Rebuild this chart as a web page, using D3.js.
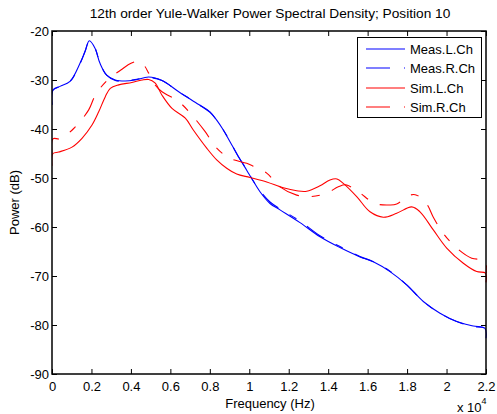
<!DOCTYPE html>
<html>
<head>
<meta charset="utf-8">
<script src="https://cdn.jsdelivr.net/npm/d3@7"></script>
<style>
  body { margin: 0; background: #fff; }
  svg { display: block; font-family: "Liberation Sans", Arial, sans-serif; }
</style>
</head>
<body>
<svg id="chart" width="497" height="414"></svg>
<script>
// Frequency in Hz, power in dB
const measL_f = [0, 51, 406, 912, 1419, 1673, 1891, 2180, 2433, 2771, 3209, 3700, 4207, 4902, 5576, 6423, 7437, 8009, 8349, 8684, 9023, 9444, 9870, 10123, 10544, 11051, 11558, 12571, 13585, 14599, 15613, 16287, 17133, 17980, 18822, 19668, 20515, 21356, 21949, 22000];
const measL_db = [-35.1, -32.0, -31.3, -30.3, -26.6, -24.2, -22.0, -23.5, -26.6, -29.0, -30.0, -30.2, -30.0, -29.4, -30.1, -32.4, -35.0, -36.5, -38.2, -40.2, -42.6, -45.6, -48.4, -50.1, -52.8, -55.2, -56.5, -59.1, -62.0, -64.2, -66.1, -67.1, -69.1, -71.8, -75.2, -77.6, -79.3, -80.2, -80.7, -82.7];
const measR_f = [0, 51, 406, 912, 1419, 1673, 1891, 2180, 2433, 2771, 3209, 3700, 4207, 4902, 5576, 6423, 7437, 8009, 8349, 8684, 9023, 9444, 9870, 10123, 10544, 11051, 11558, 12571, 13585, 14599, 15613, 16287, 17133, 17980, 18822, 19668, 20515, 21356, 21949, 22000];
const measR_db = [-35.0, -32.1, -31.3, -30.3, -26.7, -24.2, -22.1, -23.5, -26.6, -29.0, -30.1, -30.2, -29.9, -29.5, -30.1, -32.4, -35.0, -36.6, -38.2, -40.2, -42.5, -45.6, -48.3, -50.1, -52.6, -54.9, -56.3, -58.8, -61.8, -64.0, -66.0, -67.1, -69.0, -71.8, -75.2, -77.6, -79.3, -80.3, -80.7, -82.6];
const simL_f = [0, 51, 340, 1014, 1521, 2028, 2367, 2702, 2956, 3379, 4049, 4562, 4902, 5221, 5576, 6083, 6757, 7163, 7842, 8349, 8856, 9363, 10037, 10883, 11725, 12404, 12911, 13585, 14092, 14447, 14766, 15446, 16120, 16794, 17474, 18234, 18654, 19329, 20008, 20850, 21529, 21975, 22000];
const simL_db = [-47.5, -45.0, -44.7, -43.7, -41.9, -39.2, -36.5, -33.4, -31.7, -31.0, -30.5, -30.0, -29.9, -30.6, -33.1, -35.8, -37.8, -40.2, -43.9, -46.3, -48.0, -49.2, -49.9, -50.8, -52.0, -52.6, -52.7, -51.6, -50.4, -50.2, -51.1, -53.8, -56.9, -58.0, -57.2, -55.9, -56.9, -60.6, -64.3, -67.4, -69.1, -69.4, -71.3];
const simR_f = [0, 51, 406, 1100, 1860, 2195, 2788, 3548, 4005, 4395, 4664, 4902, 5221, 5576, 6423, 7163, 7756, 8349, 9023, 9870, 10204, 10883, 11558, 12404, 13078, 13924, 14513, 14900, 15527, 16373, 17133, 17474, 18148, 18487, 18994, 19329, 19836, 20515, 21276, 21949, 22000];
const simR_db = [-45.0, -42.0, -42.0, -39.9, -36.1, -33.1, -30.1, -27.8, -26.6, -26.2, -27.0, -28.6, -31.0, -32.4, -34.4, -37.5, -40.5, -43.9, -46.0, -47.0, -47.6, -49.0, -51.8, -53.5, -53.8, -53.1, -51.8, -51.4, -52.8, -55.2, -55.5, -55.3, -53.5, -53.5, -55.3, -58.0, -61.3, -64.3, -66.4, -66.9, -71.4];

const seriesNames = ["Meas.L.Ch", "Meas.R.Ch", "Sim.L.Ch", "Sim.R.Ch"];
const xTicks = [0, 2000, 4000, 6000, 8000, 10000, 12000, 14000, 16000, 18000, 20000, 22000];
const yTicks = [-90, -80, -70, -60, -50, -40, -30, -20];
const titleText = "12th order Yule-Walker Power Spectral Density; Position 10";

const series = [
  { name: seriesNames[0], f: measL_f, v: measL_db, color: "#0000ff", dash: null },
  { name: seriesNames[1], f: measR_f, v: measR_db, color: "#0000ff", dash: "21,13,8,13" },
  { name: seriesNames[2], f: simL_f, v: simL_db, color: "#ff0000", dash: null },
  { name: seriesNames[3], f: simR_f, v: simR_db, color: "#ff0000", dash: "21,13,8,13" }
];

const FS = 13;
const svg = d3.select("#chart");
const L = 52, R = 486, T = 31, B = 374;
const x = d3.scaleLinear().domain([0, 22000]).range([L, R]);
const y = d3.scaleLinear().domain([-90, -20]).range([B, T]);

svg.append("rect").attr("x", L).attr("y", T).attr("width", R - L).attr("height", B - T).attr("fill", "#fff");

const line = d3.line().x(d => x(d[0])).y(d => y(d[1])).curve(d3.curveCatmullRom.alpha(0.5));
svg.append("clipPath").attr("id", "clip").append("rect")
  .attr("x", L).attr("y", T).attr("width", R - L + 1).attr("height", B - T);

const g = svg.append("g").attr("clip-path", "url(#clip)");
series.forEach(s => {
  const pts = s.f.map((f, i) => [f, s.v[i]]);
  g.append("path").datum(pts).attr("d", line)
    .attr("fill", "none").attr("stroke", s.color).attr("stroke-width", 1.1)
    .attr("stroke-dasharray", s.dash);
});

const fmtX = d => String(+(d / 10000).toFixed(1));
const axB = svg.append("g").attr("transform", `translate(0,${B})`)
  .call(d3.axisBottom(x).tickValues(xTicks).tickSize(-5).tickPadding(8).tickFormat(fmtX));
const axT = svg.append("g").attr("transform", `translate(0,${T})`)
  .call(d3.axisTop(x).tickValues(xTicks).tickSize(-5).tickFormat(""));
const axL = svg.append("g").attr("transform", `translate(${L},0)`)
  .call(d3.axisLeft(y).tickValues(yTicks).tickSize(-5).tickPadding(3).tickFormat(d => String(d)));
const axR = svg.append("g").attr("transform", `translate(${R},0)`)
  .call(d3.axisRight(y).tickValues(yTicks).tickSize(-5).tickFormat(""));
[axB, axT, axL, axR].forEach(a => {
  a.selectAll("path.domain").remove();
  a.selectAll(".tick line").attr("stroke", "#000").attr("stroke-width", 1);
  a.selectAll(".tick text").attr("font-size", FS).attr("fill", "#000")
    .attr("font-family", "'Liberation Sans', Arial, sans-serif");
});
axB.selectAll(".tick text").attr("dy", 0).attr("y", 17);

svg.append("rect").attr("x", L).attr("y", T).attr("width", R - L).attr("height", B - T)
  .attr("fill", "none").attr("stroke", "#000").attr("stroke-width", 1.5);

svg.append("text").attr("x", 270).attr("y", 18).attr("text-anchor", "middle")
  .attr("font-size", 13.7).attr("fill", "#000").text(titleText);
svg.append("text").attr("x", 270).attr("y", 408).attr("text-anchor", "middle")
  .attr("font-size", FS).attr("fill", "#000").text("Frequency (Hz)");
svg.append("text").attr("transform", `translate(19,${(T + B) / 2}) rotate(-90)`)
  .attr("text-anchor", "middle").attr("font-size", FS).attr("fill", "#000").text("Power (dB)");
const mult = svg.append("text").attr("x", 457).attr("y", 412).attr("font-size", FS).attr("fill", "#000");
mult.append("tspan").text("x 10");
mult.append("tspan").attr("font-size", 9).attr("dy", -8).text("4");

const lg = svg.append("g");
lg.append("rect").attr("x", 357.5).attr("y", 37.5).attr("width", 124).attr("height", 80)
  .attr("fill", "#fff").attr("stroke", "#000").attr("stroke-width", 1);
const legY = [49, 68, 88, 107];
series.forEach((s, i) => {
  lg.append("line").attr("x1", 366).attr("x2", 405).attr("y1", legY[i]).attr("y2", legY[i])
    .attr("stroke", s.color).attr("stroke-width", 1.1).attr("stroke-dasharray", s.dash ? "24,14" : null);
  lg.append("text").attr("x", 410).attr("y", legY[i] + 4.5).attr("font-size", FS).attr("fill", "#000").text(s.name);
});
</script>
</body>
</html>
